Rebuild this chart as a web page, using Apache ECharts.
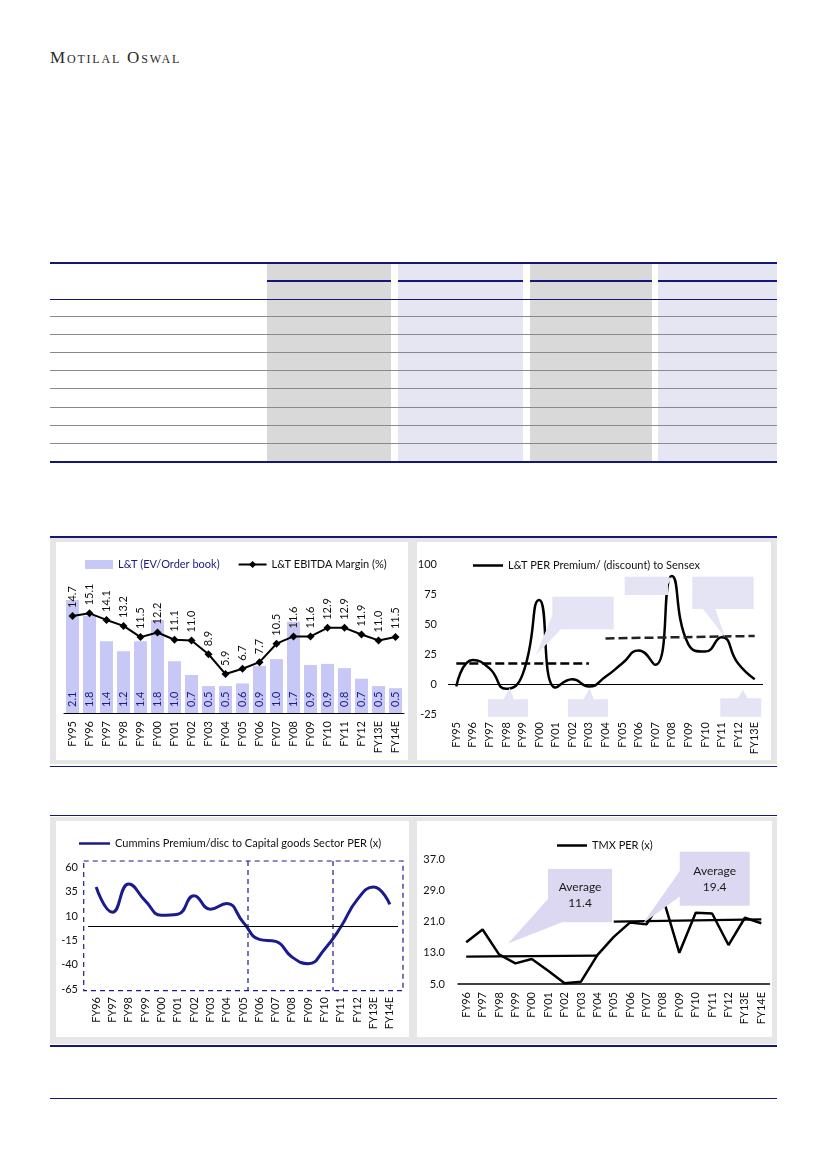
<!DOCTYPE html>
<html><head><meta charset="utf-8">
<script src="https://cdn.jsdelivr.net/npm/echarts@6/dist/echarts.min.js"></script>
<style>
body{margin:0;background:#fff;}
#page{position:relative;width:826px;height:1169px;overflow:hidden;background:#fff;}
.a{position:absolute;}
#chart{position:absolute;left:0;top:0;width:826px;height:1169px;}
#hdr{position:absolute;left:50px;top:49px;font-family:'Liberation Serif',serif;font-size:17px;line-height:17px;font-variant:small-caps;letter-spacing:1.8px;color:#2a2a2a;white-space:nowrap;}
</style></head>
<body><div id="page">
<div id="hdr">Motilal Oswal</div>
<div id="tbl"></div>
<div id="panels"></div>
<div id="chart"></div>
</div>
<script>
// ---------- data ----------
const cats1 = ['FY95','FY96','FY97','FY98','FY99','FY00','FY01','FY02','FY03','FY04','FY05','FY06','FY07','FY08','FY09','FY10','FY11','FY12','FY13E','FY14E'];
const evOrderBook = [2.14,1.84,1.36,1.17,1.36,1.76,0.98,0.72,0.51,0.51,0.56,0.89,1.02,1.73,0.91,0.93,0.85,0.65,0.51,0.47];
const ebitdaMargin = [14.7,15.1,14.1,13.2,11.5,12.2,11.1,11.0,8.9,5.9,6.7,7.7,10.5,11.6,11.6,12.9,12.9,11.9,11.0,11.5];

const cats2 = ['FY95','FY96','FY97','FY98','FY99','FY00','FY01','FY02','FY03','FY04','FY05','FY06','FY07','FY08','FY09','FY10','FY11','FY12','FY13E'];
const perPremium = [-2,20,13,-4,8,70,-3,4,-2,6,17,28,16,90,33,27,39,17,4];
const perAvgEarly = [17,17];   // FY95 -> FY03
const perAvgLate = [38,40];    // FY04 -> FY13E
const yTicks2 = [-25,0,25,50,75,100];

const cats3 = ['FY96','FY97','FY98','FY99','FY00','FY01','FY02','FY03','FY04','FY05','FY06','FY07','FY08','FY09','FY10','FY11','FY12','FY13E','FY14E'];
const cumminsPrem = [40,14,43,26,11,12,31,17,23,4,-14,-16,-32,-39,-24,-1,27,40,22];
const yTicks3 = [-65,-40,-15,10,35,60];

const cats4 = ['FY96','FY97','FY98','FY99','FY00','FY01','FY02','FY03','FY04','FY05','FY06','FY07','FY08','FY09','FY10','FY11','FY12','FY13E','FY14E'];
const tmxPer = [15.7,19.0,12.6,10.3,11.4,8.4,5.2,5.6,12.4,17.1,20.8,20.3,27.1,13.0,23.3,23.1,15.0,22.0,20.6];
const tmxAvgEarly = [12.0,12.3]; // FY96 -> FY04
const tmxAvgLate = [21.0,21.6];  // FY05 -> FY14E
const tmxAvgLabels = ['Average\n11.4','Average\n19.4'];
const yTicks4 = [5,13,21,29,37];

// ---------- static page furniture ----------
const NAVY='#16167a';
function box(parent,x,y,w,h,bg){const d=document.createElement('div');d.className='a';d.style.cssText=`left:${x}px;top:${y}px;width:${w}px;height:${h}px;background:${bg};`;parent.appendChild(d);}
const tbl=document.getElementById('tbl');
const cols=[[267,391,'#d9d9d9'],[398,523,'#e6e6f2'],[530,652,'#d9d9d9'],[658,777,'#e6e6f2']];
cols.forEach(c=>box(tbl,c[0],263,c[1]-c[0],198,c[2]));
box(tbl,50,262,727,2,NAVY);
cols.forEach(c=>box(tbl,c[0],280,c[1]-c[0],1.5,NAVY));
box(tbl,50,298.5,727,1.5,NAVY);
[316,334,352,370,388,407,425,443].forEach(y=>box(tbl,50,y,727,1.3,'#8a8a8a'));
box(tbl,50,460.5,727,2,NAVY);

const pn=document.getElementById('panels');
box(pn,50,536,727,1.6,NAVY);
box(pn,50,538,727,226,'#e6e6e6');
box(pn,56,542,352,218,'#fff');
box(pn,417,542,354,218,'#fff');
box(pn,50,765.5,727,1.6,NAVY);
box(pn,50,814.5,727,1.6,NAVY);
box(pn,50,817,727,227,'#e6e6e6');
box(pn,56,821,353,216,'#fff');
box(pn,417,821,355,216,'#fff');
box(pn,50,1045,727,1.6,NAVY);
box(pn,50,1097.5,727,1.6,NAVY);

// ---------- chart ----------
const FONT='Lato';
const txt={fontFamily:FONT,fontSize:11,color:'#111'};
const chart=echarts.init(document.getElementById('chart'),null,{renderer:'canvas'});
const CALL='#e4e4f4', CALL2='#dcd8f2';
function xCat(idx,data){return {gridIndex:idx,type:'category',data:data,boundaryGap:true,axisTick:{show:false},
  axisLabel:Object.assign({rotate:90,margin:8,interval:0},txt),splitLine:{show:false}};}

const option={
  animation:false,
  backgroundColor:'transparent',
  textStyle:{fontFamily:FONT},
  grid:[
    {left:64,top:581,width:340,height:132},
    {left:448,top:564,width:315,height:150},
    {left:88,top:867.5,width:310,height:121.5},
    {left:458,top:859.3,width:311.5,height:124.7}
  ],
  legend:[
    {left:80,top:554,itemWidth:28,itemHeight:9,itemGap:18,textStyle:txt,
     data:[{name:'L&T (EV/Order book)',icon:'rect',textStyle:{color:'#1a1a86'}},{name:'L&T EBITDA Margin (%)'}]},
    {left:468,top:555,itemWidth:30,itemHeight:2.5,textStyle:txt,data:[{name:'L&T PER Premium/ (discount) to Sensex',icon:'rect'}]},
    {left:74,top:833,itemWidth:31,itemHeight:2.5,textStyle:txt,data:[{name:'Cummins Premium/disc to Capital goods Sector PER (x)',icon:'rect'}]},
    {left:552,top:835,itemWidth:30,itemHeight:2.5,textStyle:txt,data:[{name:'TMX PER (x)',icon:'rect'}]}
  ],
  xAxis:[
    Object.assign(xCat(0,cats1),{axisLine:{show:true,lineStyle:{color:'#000',width:1}}}),
    Object.assign(xCat(1,cats2),{axisLine:{show:false,onZero:false}}),
    Object.assign(xCat(2,cats3),{axisLine:{show:false,onZero:false}}),
    Object.assign(xCat(3,cats4),{axisLine:{show:true,onZero:false,lineStyle:{color:'#000',width:1.5}}})
  ],
  yAxis:[
    {gridIndex:0,type:'value',min:0,max:2.5,show:false},
    {gridIndex:0,type:'value',min:0,max:20,show:false},
    {gridIndex:1,type:'value',min:yTicks2[0],max:yTicks2[yTicks2.length-1],interval:yTicks2[1]-yTicks2[0],
      axisLine:{show:false},axisTick:{show:false},splitLine:{show:false},axisLabel:Object.assign({margin:11},txt)},
    {gridIndex:2,type:'value',min:yTicks3[0],max:yTicks3[yTicks3.length-1],interval:yTicks3[1]-yTicks3[0],
      axisLine:{show:false},axisTick:{show:false},splitLine:{show:false},axisLabel:Object.assign({margin:10},txt)},
    {gridIndex:3,type:'value',min:yTicks4[0],max:yTicks4[yTicks4.length-1],interval:yTicks4[1]-yTicks4[0],
      axisLine:{show:false},axisTick:{show:false},splitLine:{show:false},
      axisLabel:Object.assign({margin:13,formatter:v=>v.toFixed(1)},txt)}
  ],
  series:[
    {name:'L&T (EV/Order book)',type:'bar',xAxisIndex:0,yAxisIndex:0,data:evOrderBook,barWidth:13,
     itemStyle:{color:'#c8c8f6'},
     label:{show:true,position:'insideBottom',rotate:90,align:'left',verticalAlign:'middle',distance:6,
       formatter:p=>p.value.toFixed(1),fontFamily:FONT,fontSize:11,color:'#1a1a86'}},
    {name:'L&T EBITDA Margin (%)',type:'line',xAxisIndex:0,yAxisIndex:1,data:ebitdaMargin,
     symbol:'diamond',symbolSize:8,itemStyle:{color:'#000'},lineStyle:{color:'#000',width:2},
     label:{show:true,position:'top',rotate:90,align:'left',verticalAlign:'middle',distance:4,
       formatter:p=>p.value.toFixed(1),fontFamily:FONT,fontSize:11,color:'#111'},z:5},
    {name:'L&T PER Premium/ (discount) to Sensex',type:'line',xAxisIndex:1,yAxisIndex:2,data:perPremium,
     smooth:0.55,symbol:'none',lineStyle:{color:'#000',width:2.5},itemStyle:{color:'#000'},
     markLine:{silent:true,symbol:'none',label:{show:false},
       data:[
         {yAxis:0,lineStyle:{type:'solid',width:1.2,color:'#000'}},
         [{coord:[cats2[0],perAvgEarly[0]],lineStyle:{type:[9,4],width:2.5,color:'#000'}},{coord:[cats2[8],perAvgEarly[1]]}],
         [{coord:[cats2[9],perAvgLate[0]],lineStyle:{type:[9,4],width:2.5,color:'#222'}},{coord:[cats2[18],perAvgLate[1]]}]
       ]}},
    {name:'Cummins Premium/disc to Capital goods Sector PER (x)',type:'line',xAxisIndex:2,yAxisIndex:3,data:cumminsPrem,
     smooth:0.5,symbol:'none',lineStyle:{color:'#1b1b8e',width:3},itemStyle:{color:'#1b1b8e'},
     markLine:{silent:true,symbol:'none',label:{show:false},
       data:[{yAxis:0,lineStyle:{type:'solid',width:1,color:'#000'}}]}},
    {name:'TMX PER (x)',type:'line',xAxisIndex:3,yAxisIndex:4,data:tmxPer,
     symbol:'none',lineStyle:{color:'#000',width:2.5},itemStyle:{color:'#000'},
     markLine:{silent:true,symbol:'none',label:{show:false},
       data:[
         [{coord:[cats4[0],tmxAvgEarly[0]],lineStyle:{type:'solid',width:2.2,color:'#000'}},{coord:[cats4[8],tmxAvgEarly[1]]}],
         [{coord:[cats4[9],tmxAvgLate[0]],lineStyle:{type:'solid',width:2.2,color:'#000'}},{coord:[cats4[18],tmxAvgLate[1]]}]
       ]}}
  ],
  graphic:[
    // chart 2 callouts (empty)
    {type:'polygon',z:100,shape:{points:[[536,655],[552,616],[561,629.3]]},style:{fill:CALL}},
    {type:'rect',z:100,shape:{x:552.3,y:596.7,width:61.4,height:32.6},style:{fill:CALL}},
    {type:'rect',z:100,shape:{x:624.7,y:576.7,width:43.3,height:18.3},style:{fill:CALL}},
    {type:'polygon',z:100,shape:{points:[[667,577],[672,578],[667,586]]},style:{fill:CALL}},
    {type:'rect',z:100,shape:{x:692.3,y:576.7,width:61.4,height:32.3},style:{fill:CALL}},
    {type:'polygon',z:100,shape:{points:[[702,608],[715,608],[725,637]]},style:{fill:CALL}},
    {type:'rect',z:100,shape:{x:488,y:699.3,width:40,height:17.4},style:{fill:CALL}},
    {type:'polygon',z:100,shape:{points:[[503,700],[514,700],[509.7,688]]},style:{fill:CALL}},
    {type:'rect',z:100,shape:{x:568,y:699.3,width:40,height:17.4},style:{fill:CALL}},
    {type:'polygon',z:100,shape:{points:[[583,700],[594,700],[589.7,688]]},style:{fill:CALL}},
    {type:'rect',z:100,shape:{x:720.3,y:698.3,width:41,height:18.4},style:{fill:CALL}},
    {type:'polygon',z:100,shape:{points:[[737,699],[748,699],[743,690]]},style:{fill:CALL}},
    // chart 3 dashed boxes
    {type:'rect',z:1,shape:{x:83.7,y:861,width:319.3,height:129.7},style:{fill:'none',stroke:'#1b1b8e',lineWidth:1.2,lineDash:[5,4]}},
    {type:'line',z:1,shape:{x1:248,y1:861,x2:248,y2:990.7},style:{stroke:'#1b1b8e',lineWidth:1.2,lineDash:[5,4]}},
    {type:'line',z:1,shape:{x1:333,y1:861,x2:333,y2:990.7},style:{stroke:'#1b1b8e',lineWidth:1.2,lineDash:[5,4]}},
    // chart 4 callouts
    {type:'polygon',z:100,shape:{points:[[508,943.5],[548,899],[562,922.3]]},style:{fill:CALL2}},
    {type:'rect',z:100,shape:{x:548,y:869,width:64,height:53.3},style:{fill:CALL2}},
    {type:'text',z:101,style:{text:tmxAvgLabels[0],x:580,y:895.5,align:'center',verticalAlign:'middle',
      fontFamily:FONT,fontSize:12,lineHeight:16,fill:'#1a1a1a'}},
    {type:'polygon',z:100,shape:{points:[[643,923.3],[680.5,870],[680.5,896]]},style:{fill:CALL2}},
    {type:'rect',z:100,shape:{x:679.7,y:851.7,width:70,height:54},style:{fill:CALL2}},
    {type:'text',z:101,style:{text:tmxAvgLabels[1],x:714.7,y:879,align:'center',verticalAlign:'middle',
      fontFamily:FONT,fontSize:12,lineHeight:16,fill:'#1a1a1a'}}
  ]
};
chart.setOption(option);
</script>
</body></html>
